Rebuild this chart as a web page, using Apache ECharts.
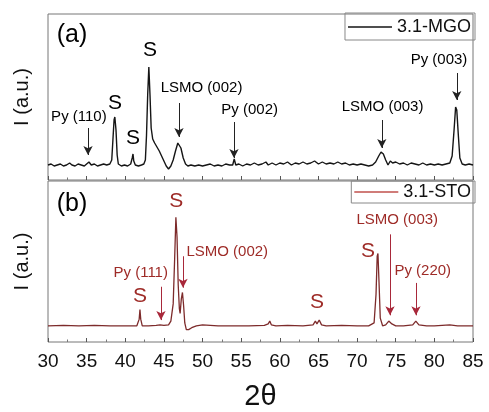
<!DOCTYPE html>
<html>
<head>
<meta charset="utf-8">
<script src="https://cdn.jsdelivr.net/npm/echarts@6/dist/echarts.min.js"></script>
<style>
  html, body { margin: 0; padding: 0; background: #fff; }
  #chart { width: 489px; height: 412px; }
</style>
</head>
<body>
<div id="chart"></div>
<script>
// 2theta range and ticks
var xMin = 30, xMax = 85, xStep = 5;

// (a) 3.1-MGO pattern, [2theta, intensity a.u.]
var mgoPattern = [
  [30, 15], [30.4, 16], [30.8, 14], [31.2, 15], [31.6, 16], [32, 14], [32.4, 15], [32.8, 17],
  [33.1, 15], [33.5, 14], [33.9, 16], [34.3, 15], [34.7, 14], [35.0, 16], [35.3, 18], [35.6, 15],
  [36, 16], [36.4, 14], [36.8, 15], [37.2, 16], [37.6, 15], [38.0, 16], [38.25, 20], [38.4, 40],
  [38.55, 60], [38.65, 63], [38.8, 50], [38.95, 25], [39.1, 16], [39.5, 14], [39.9, 15], [40.3, 14],
  [40.7, 16], [40.9, 22], [41.0, 26], [41.1, 19], [41.3, 15], [41.7, 14], [42.1, 15], [42.4, 16],
  [42.6, 20], [42.75, 45], [42.9, 85], [43.05, 113], [43.2, 85], [43.35, 52], [43.55, 41], [43.8, 37],
  [44.1, 33], [44.4, 29], [44.7, 24], [45.0, 19], [45.3, 14], [45.6, 11], [45.9, 14], [46.2, 20],
  [46.5, 29], [46.8, 37], [46.95, 38], [47.2, 32], [47.5, 22], [47.8, 16], [48.1, 14], [48.5, 15],
  [49, 14], [49.5, 15], [50, 14], [50.5, 15], [51, 16], [51.5, 14], [52, 15], [52.5, 14],
  [53, 16], [53.5, 15], [53.9, 15], [54.1, 21], [54.3, 15], [54.7, 16], [55.2, 14], [55.7, 16],
  [56.2, 15], [56.7, 17], [57.2, 15], [57.7, 16], [58.2, 18], [58.5, 15], [59, 17], [59.5, 15],
  [60, 17], [60.5, 16], [61, 18], [61.5, 15], [62, 17], [62.5, 16], [63, 18], [63.5, 16],
  [64, 17], [64.5, 19], [65, 16], [65.5, 18], [66, 16], [66.5, 17], [67, 16], [67.5, 18],
  [68, 16], [68.5, 17], [69, 15], [69.5, 16], [70, 15], [70.5, 16], [71, 15], [71.5, 14],
  [72, 15], [72.4, 18], [72.8, 24], [73.1, 28], [73.4, 26], [73.7, 20], [74.0, 15], [74.3, 19],
  [74.6, 17], [75, 18], [75.5, 16], [76, 17], [76.5, 15], [77, 17], [77.5, 16], [78, 15],
  [78.5, 17], [79, 15], [79.5, 16], [80, 15], [80.5, 16], [81, 15], [81.5, 16], [82, 17],
  [82.3, 24], [82.55, 50], [82.75, 73], [82.9, 70], [83.1, 45], [83.3, 22], [83.6, 16], [84, 15],
  [84.5, 16], [85, 15]
];

// (b) 3.1-STO pattern, [2theta, intensity a.u.]
var stoPattern = [
  [30, 17], [32, 17.5], [34, 17], [36, 17.5], [38, 17], [40, 17], [41.5, 17], [41.8, 24],
  [41.9, 34], [42.0, 24], [42.2, 17], [43, 17], [44, 17.5], [44.5, 18], [45, 17.5], [45.6, 18],
  [45.9, 22], [46.2, 40], [46.4, 90], [46.55, 131], [46.7, 110], [46.85, 60], [47.0, 35], [47.1, 30],
  [47.25, 45], [47.4, 52], [47.55, 38], [47.7, 20], [47.9, 13], [48.2, 13], [48.6, 15], [49.2, 17],
  [50, 18], [51, 17.5], [52, 17], [54, 17], [56, 17], [58, 17.5], [58.5, 19], [58.7, 22],
  [58.9, 18], [59.5, 17], [61, 17.5], [63, 17], [64.3, 18], [64.6, 22], [64.8, 19], [65.1, 23],
  [65.4, 18], [66, 17], [68, 17.5], [70, 17], [71.5, 17], [72.2, 20], [72.45, 50], [72.6, 90],
  [72.7, 93], [72.85, 60], [73.0, 25], [73.3, 17], [73.7, 18], [74.1, 22], [74.5, 19], [75, 17],
  [76, 17], [77.2, 18], [77.6, 22], [78, 18], [79, 17], [80, 17], [81, 17.5], [82, 18],
  [83, 17], [84, 17], [85, 17]
];

// annotations: [2theta, intensity, text]
var mgoPeakTags = [[38.67, 77, 'S'], [41.0, 42, 'S'], [43.2, 130, 'S']];
var mgoPhaseTags = [
  [34.0, 63, 'Py (110)'], [49.87, 92, 'LSMO (002)'], [56.1, 70, 'Py (002)'],
  [73.3, 73, 'LSMO (003)'], [80.6, 120, 'Py (003)']
];
// arrows: [2theta, from, to]
var mgoArrows = [[35.18, 52, 25], [46.95, 77, 43], [54.07, 58, 22], [73.2, 60, 32], [82.9, 107, 80]];

var stoPeakTags = [[41.9, 48, 'S'], [46.6, 148, 'S'], [64.8, 42, 'S'], [71.4, 95, 'S']];
var stoPhaseTags = [
  [42.0, 73, 'Py (111)'], [53.2, 95, 'LSMO (002)'], [75.2, 128, 'LSMO (003)'], [78.5, 75, 'Py (220)']
];
var stoArrows = [[44.62, 58, 23], [47.47, 90, 57], [74.26, 113, 28], [77.62, 62, 28]];

var panelTags = [[33.1, 145, '(a)'], [33.1, 145, '(b)']];

var FONT = '"Liberation Sans", Arial, sans-serif';

function arrowPairs(list) {
  return list.map(function (a) {
    return [{ coord: [a[0], a[1]] }, { coord: [a[0], a[2]] }];
  });
}

function tagSeries(list, idx, size, color) {
  return {
    type: 'scatter',
    xAxisIndex: idx,
    yAxisIndex: idx,
    symbolSize: 0,
    itemStyle: { color: color, opacity: 1 },
    silent: true,
    label: {
      show: true,
      position: 'inside',
      formatter: function (p) { return p.data[2]; },
      fontFamily: FONT,
      fontSize: size,
      color: color,
      textBorderWidth: 0
    },
    data: list
  };
}

function xAxisFor(idx, showLabels) {
  return {
    type: 'value',
    gridIndex: idx,
    min: xMin,
    max: xMax,
    interval: xStep,
    axisLine: { show: false },
    axisTick: { show: true, inside: true, length: 4, lineStyle: { color: '#555' } },
    minorTick: { show: true, splitNumber: 2, length: 2.5, lineStyle: { color: '#777' } },
    splitLine: { show: false },
    axisLabel: {
      show: showLabels,
      margin: 10,
      fontFamily: FONT,
      fontSize: 19,
      color: '#111'
    },
    name: showLabels ? '2θ' : '',
    nameLocation: 'middle',
    nameGap: 40,
    nameTextStyle: { fontFamily: FONT, fontSize: 29, color: '#111' }
  };
}

function yAxisFor(idx, top) {
  return {
    type: 'value',
    gridIndex: idx,
    min: 0,
    max: top,
    axisLine: { show: false },
    axisTick: { show: false },
    axisLabel: { show: false },
    splitLine: { show: false },
    name: 'I (a.u.)',
    nameLocation: 'middle',
    nameGap: 16,
    nameTextStyle: { fontFamily: FONT, fontSize: 20, color: '#111' }
  };
}

var chart = echarts.init(document.getElementById('chart'));
chart.setOption({
  animation: false,
  backgroundColor: '#fff',
  grid: [
    { left: 48, right: 16, top: 14, height: 166, show: true, borderColor: '#777', borderWidth: 1 },
    { left: 48, right: 16, top: 181, height: 169, show: true, borderColor: '#777', borderWidth: 1 }
  ],
  legend: [
    {
      data: ['3.1-MGO'], right: 14, top: 13, orient: 'horizontal', icon: 'rect',
      borderColor: '#888', borderWidth: 1, padding: [5, 4, 4, 3],
      itemWidth: 44, itemHeight: 1.5, itemGap: 4,
      textStyle: { fontFamily: FONT, fontSize: 18, color: '#111' }
    },
    {
      data: ['3.1-STO'], right: 14, top: 181, orient: 'horizontal', icon: 'rect',
      borderColor: '#888', borderWidth: 1, padding: [2, 4, 2, 3],
      itemWidth: 44, itemHeight: 1.5, itemGap: 4,
      textStyle: { fontFamily: FONT, fontSize: 18, color: '#111' }
    }
  ],
  xAxis: [xAxisFor(0, false), xAxisFor(1, true)],
  yAxis: [yAxisFor(0, 166), yAxisFor(1, 169)],
  series: [
    {
      name: '3.1-MGO',
      type: 'line',
      xAxisIndex: 0,
      yAxisIndex: 0,
      symbol: 'none',
      lineStyle: { color: '#151515', width: 1.4 },
      itemStyle: { color: '#151515' },
      data: mgoPattern,
      markLine: {
        silent: true,
        symbol: ['none', 'arrow'],
        symbolSize: [7, 9],
        label: { show: false },
        lineStyle: { color: '#222', width: 1, type: 'solid' },
        data: arrowPairs(mgoArrows)
      }
    },
    {
      name: '3.1-STO',
      type: 'line',
      xAxisIndex: 1,
      yAxisIndex: 1,
      symbol: 'none',
      lineStyle: { color: '#7d2b2b', width: 1.3 },
      itemStyle: { color: '#c0504d' },
      data: stoPattern,
      markLine: {
        silent: true,
        symbol: ['none', 'arrow'],
        symbolSize: [7, 9],
        label: { show: false },
        lineStyle: { color: '#a8283a', width: 1, type: 'solid' },
        data: arrowPairs(stoArrows)
      }
    },
    tagSeries(mgoPeakTags, 0, 21, '#000'),
    tagSeries(mgoPhaseTags, 0, 15, '#000'),
    tagSeries(stoPeakTags, 1, 21, '#9e2b27'),
    tagSeries(stoPhaseTags, 1, 15, '#9e2b27'),
    tagSeries([panelTags[0]], 0, 25, '#000'),
    tagSeries([panelTags[1]], 1, 25, '#000')
  ]
});
</script>
</body>
</html>
